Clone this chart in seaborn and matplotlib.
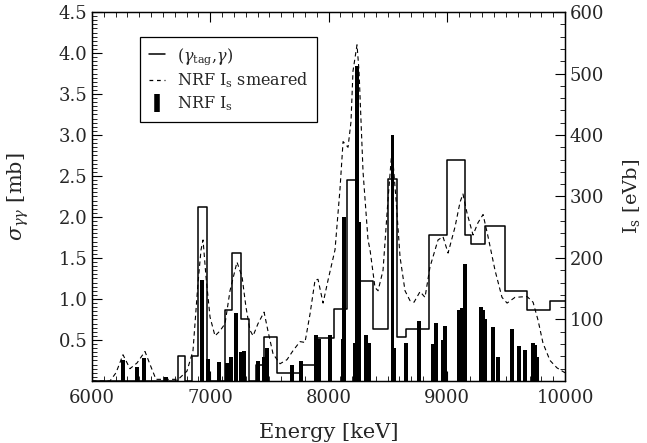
import numpy as np
import pandas as pd
import seaborn as sns
import matplotlib
matplotlib.use("Agg")
import matplotlib.pyplot as plt
from matplotlib.lines import Line2D
from matplotlib.ticker import MultipleLocator

# (gamma_tag, gamma) cross section: bin edges [keV] and bin contents [mb]
hist_edges = [6000, 6725, 6785, 6845, 6895, 6975, 7125, 7185, 7260, 7330, 7390,
              7455, 7565, 7775, 7885, 8045, 8155, 8250, 8375, 8500, 8580, 8655,
              8850, 9000, 9155, 9205, 9325, 9495, 9680, 9875, 10000]
hist_sigma = [0.0, 0.31, 0.0, 0.31, 2.12, 0.0, 0.87, 1.56, 0.76, 0.0, 0.2,
              0.54, 0.1, 0.2, 0.53, 0.88, 2.45, 1.22, 0.64, 2.46, 0.54, 0.64,
              1.78, 2.69, 1.78, 1.67, 1.89, 1.1, 0.87, 0.98]

# smeared NRF strength [mb]
smear_energy = [6000, 6152, 6203, 6262, 6321, 6381, 6448, 6491, 6541, 6727, 6744,
                6803, 6854, 6896, 6922, 6939, 6964, 6998, 7040, 7082, 7125, 7167,
                7226, 7269, 7302, 7336, 7362, 7404, 7455, 7488, 7531, 7590, 7649,
                7700, 7759, 7801, 7844, 7886, 7911, 7954, 7996, 8055, 8097, 8123,
                8165, 8190, 8207, 8241, 8258, 8292, 8334, 8351, 8393, 8419, 8461,
                8503, 8537, 8571, 8605, 8647, 8689, 8723, 8774, 8816, 8858, 8926,
                8968, 9011, 9070, 9112, 9137, 9171, 9222, 9264, 9307, 9349, 9408,
                9467, 9510, 9577, 9679, 9730, 9772, 9814, 9873, 9932, 10000]
smear_sigma = [0.0, 0.0, 0.1, 0.32, 0.15, 0.22, 0.36, 0.2, 0.02, 0.02, 0.04,
               0.12, 0.37, 1.19, 1.6, 1.72, 1.27, 0.78, 0.55, 0.61, 0.7, 1.1,
               1.45, 1.27, 0.9, 0.62, 0.55, 0.7, 0.84, 0.61, 0.33, 0.21, 0.26,
               0.37, 0.48, 0.47, 0.82, 1.23, 1.24, 0.95, 1.23, 1.6, 2.34, 2.92,
               2.85, 3.16, 3.78, 4.1, 3.78, 2.55, 1.72, 1.6, 1.14, 1.1, 1.35,
               2.21, 2.83, 2.21, 1.51, 1.1, 0.98, 0.96, 1.09, 1.02, 1.39, 1.72,
               1.76, 1.56, 1.88, 2.18, 2.28, 2.05, 1.78, 1.93, 2.03, 1.76, 1.35,
               1.02, 0.95, 1.02, 1.03, 0.96, 0.74, 0.46, 0.25, 0.16, 0.1]

# NRF integrated strengths I_s [eVb]
nrf_energy = [6262, 6381, 6440, 6626, 6930, 6981, 7074, 7142, 7176, 7218, 7260,
              7285, 7404, 7455, 7480, 7691, 7768, 7894, 7920, 8013, 8123, 8131,
              8224, 8241, 8258, 8317, 8343, 8541, 8558, 8655, 8765, 8884, 8909,
              8968, 8985, 9104, 9129, 9154, 9290, 9307, 9324, 9391, 9434, 9552,
              9611, 9662, 9730, 9746, 9763]
nrf_is = [34, 23, 38, 7, 164, 36, 31, 30, 39, 111, 47,
          49, 33, 39, 54, 26, 33, 74, 69, 74, 69, 267,
          62, 512, 259, 75, 62, 400, 54, 62, 98, 60, 95,
          67, 90, 116, 118, 190, 120, 115, 100, 87, 39, 84,
          57, 51, 62, 59, 39]

sns.set_theme(style="ticks")
plt.rcParams["font.family"] = ["DejaVu Serif"]
plt.rcParams["mathtext.fontset"] = "dejavuserif"
plt.rcParams["xtick.direction"] = "in"
plt.rcParams["ytick.direction"] = "in"

fig = plt.figure(figsize=(6.47, 4.43), dpi=100)
ax = fig.add_axes([0.1422, 0.1400, 0.7311, 0.8329])
ax2 = ax.twinx()

hist_df = pd.DataFrame({"E": hist_edges, "sigma": hist_sigma + [hist_sigma[-1]]})
smear_df = pd.DataFrame({"E": smear_energy, "sigma": smear_sigma})

sns.lineplot(data=hist_df, x="E", y="sigma", ax=ax, drawstyle="steps-post",
             estimator=None, sort=False, color="black", linewidth=1.1)
sns.lineplot(data=smear_df, x="E", y="sigma", ax=ax, estimator=None, sort=False,
             color="black", linewidth=0.8, linestyle=(0, (4, 3)))

ax2.bar(nrf_energy, nrf_is, width=28, color="black", edgecolor="none")

ax.set_xlim(6000, 10000)
ax.set_ylim(0, 4.5)
ax2.set_ylim(0, 600)

ax.set_xticks([6000, 7000, 8000, 9000, 10000])
ax.xaxis.set_minor_locator(MultipleLocator(100))
ax.set_yticks([0.5, 1.0, 1.5, 2.0, 2.5, 3.0, 3.5, 4.0, 4.5])
ax.set_yticklabels(["0.5", "1.0", "1.5", "2.0", "2.5", "3.0", "3.5", "4.0", "4.5"])
ax.yaxis.set_minor_locator(MultipleLocator(0.05))
ax2.set_yticks([100, 200, 300, 400, 500, 600])
ax2.yaxis.set_minor_locator(MultipleLocator(20))

ax.tick_params(axis="x", which="both", top=True, bottom=True, labelsize=13, pad=6)
ax.tick_params(axis="y", which="both", left=True, right=False, labelsize=13)
ax.tick_params(which="major", length=7, width=0.8, color="black")
ax.tick_params(which="minor", length=3.5, width=0.6, color="black")
ax2.tick_params(axis="y", which="both", right=True, labelsize=13)
ax2.tick_params(which="major", length=7, width=0.8, color="black")
ax2.tick_params(which="minor", length=3.5, width=0.6, color="black")

for a in (ax, ax2):
    for s in a.spines.values():
        s.set_color("black")
        s.set_linewidth(0.9)
ax2.patch.set_visible(False)

ax.set_xlabel("Energy [keV]", fontsize=15)
ax.set_ylabel(r"$\sigma_{\gamma\gamma}$ [mb]", fontsize=15)
ax2.set_ylabel(r"I$_{\rm s}$ [eVb]", fontsize=14, rotation=90)
ax.xaxis.set_label_coords(0.5, -0.115)
ax.yaxis.set_label_coords(-0.128, 0.5)
ax2.yaxis.set_label_coords(1.118, 0.5)

handles = [
    Line2D([], [], color="black", linewidth=1.1),
    Line2D([], [], color="black", linewidth=0.9, linestyle=(0, (3, 3))),
    Line2D([], [], color="black", marker="|", markersize=13, markeredgewidth=4,
           linestyle="none"),
]
labels = [r"($\gamma_{\rm tag}$,$\gamma$)", r"NRF I$_{\rm s}$ smeared", r"NRF I$_{\rm s}$"]
leg = ax.legend(handles, labels, loc="upper left", bbox_to_anchor=(0.101, 0.932),
                borderaxespad=0, fontsize=11.5, handlelength=1.0, handletextpad=0.8,
                frameon=True, fancybox=False, framealpha=1, edgecolor="black",
                borderpad=0.55, labelspacing=0.25)
leg.get_frame().set_linewidth(0.9)

fig.savefig("out.png", dpi=100)
